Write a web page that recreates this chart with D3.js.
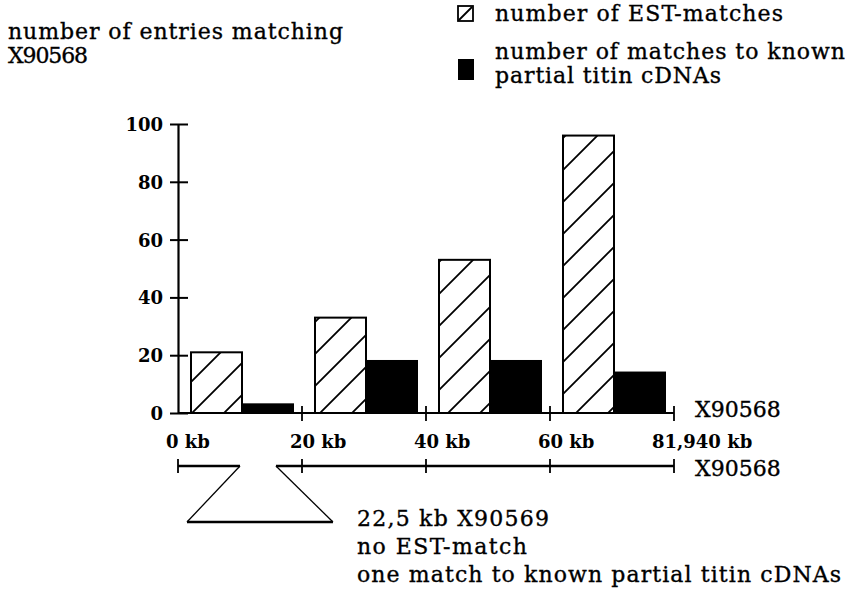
<!DOCTYPE html>
<html>
<head>
<meta charset="utf-8">
<script src="https://cdn.jsdelivr.net/npm/d3@7"></script>
<style>
  html, body { margin: 0; padding: 0; background: #fff; }
  svg { display: block; }
  text { font-family: "DejaVu Serif", "Liberation Serif", serif; fill: #000; }
  .heavy { stroke: #000; stroke-width: 0.35px; }
</style>
</head>
<body>
<svg id="chart" width="850" height="596"></svg>
<script>
// ---------------- data ----------------
const segments = ["0-20 kb", "20-40 kb", "40-60 kb", "60-81,940 kb"];
const estMatches = [21, 33, 53, 96];
const titinMatches = [3, 18, 18, 14];
const seriesKeys = ["est", "titin"];
const yTicks = [0, 20, 40, 60, 80, 100];
const kbTickLabels = ["0 kb", "20 kb", "40 kb", "60 kb", "81,940 kb"];
const kbTickValues = [0, 20, 40, 60, 81.94];
const insertGapKb = [10, 15.8];
const titleLines = ["number of entries matching", "X90568"];
const legendEst = ["number of EST-matches"];
const legendTitin = ["number of matches to known", "partial titin cDNAs"];
const axisName = "X90568";
const insertLines = ["22,5 kb X90569", "no EST-match", "one match to known partial titin cDNAs"];

// ---------------- layout ----------------
const svg = d3.select("#chart");
const plotLeft = 178, plotRight = 674, plotTop = 124, plotBase = 413;
const mapY = 466;
const textSize = "22px";

const y = d3.scaleLinear().domain([0, 100]).range([plotBase, plotTop]);
const xSeg = d3.scaleBand().domain(segments).range([plotLeft, plotRight]).padding(0);
const xInner = d3.scaleBand().domain(seriesKeys).range([13, 115]);
const xTick = d3.scalePoint().domain(kbTickLabels).range([plotLeft, plotRight]);
const xKb = d3.scaleLinear().domain(kbTickValues).range(kbTickLabels.map(l => xTick(l)));

// hatch pattern
const defs = svg.append("defs");
const pat = defs.append("pattern")
  .attr("id", "hatch").attr("patternUnits", "userSpaceOnUse")
  .attr("width", 32).attr("height", 32).attr("x", 0).attr("y", plotBase);
pat.append("path")
  .attr("d", "M-8,8 L8,-8 M0,32 L32,0 M24,40 L40,24")
  .attr("stroke", "#000").attr("stroke-width", 1.8);

// ---------------- bars ----------------
const rows = segments.map((s, i) => ({ seg: s, est: estMatches[i], titin: titinMatches[i] }));
const g = svg.append("g");
rows.forEach(r => {
  seriesKeys.forEach(k => {
    g.append("rect")
      .attr("x", xSeg(r.seg) + xInner(k))
      .attr("y", y(r[k]))
      .attr("width", xInner.bandwidth())
      .attr("height", plotBase - y(r[k]))
      .attr("fill", k === "est" ? "url(#hatch)" : "#000")
      .attr("stroke", "#000")
      .attr("stroke-width", 2);
  });
});

// ---------------- y axis ----------------
const yAxis = svg.append("g").attr("transform", `translate(${plotLeft},0)`)
  .call(d3.axisLeft(y).tickValues(yTicks).tickSizeInner(8).tickSizeOuter(0).tickPadding(7));
yAxis.select(".domain").attr("stroke-width", 2.2);
yAxis.selectAll(".tick line").attr("x1", 10).attr("x2", -8).attr("stroke-width", 2);
yAxis.selectAll(".tick text")
  .style("font-family", '"DejaVu Serif", serif')
  .style("font-size", "18px").style("font-weight", "bold").attr("dy", "0.36em");

// ---------------- x axis (baseline) ----------------
svg.append("line").attr("x1", plotLeft).attr("x2", plotRight).attr("y1", plotBase).attr("y2", plotBase)
  .attr("stroke", "#000").attr("stroke-width", 2.2);
svg.selectAll(".xt").data(kbTickLabels.slice(1)).join("line")
  .attr("x1", d => xTick(d)).attr("x2", d => xTick(d))
  .attr("y1", plotBase - 7).attr("y2", plotBase + 8)
  .attr("stroke", "#000").attr("stroke-width", 1.8);
svg.selectAll(".xl").data(kbTickLabels).join("text")
  .attr("x", (d, i) => xTick(d) + (i === kbTickLabels.length - 1 ? -22 : -12))
  .attr("y", 448)
  .style("font-size", "18px").style("font-weight", "bold")
  .text(d => d);
svg.append("text").attr("class", "heavy").attr("x", plotRight + 21).attr("y", 417)
  .style("font-size", "22px").text(axisName);

// ---------------- physical map ----------------
const mapSegs = [[kbTickValues[0], insertGapKb[0]], [insertGapKb[1], kbTickValues[kbTickValues.length - 1]]];
svg.selectAll(".mapseg").data(mapSegs).join("line")
  .attr("x1", d => xKb(d[0])).attr("x2", d => xKb(d[1]))
  .attr("y1", mapY).attr("y2", mapY)
  .attr("stroke", "#000").attr("stroke-width", 2.4);
svg.selectAll(".maptick").data(kbTickValues).join("line")
  .attr("x1", d => xKb(d)).attr("x2", d => xKb(d))
  .attr("y1", mapY - 7).attr("y2", mapY + 7)
  .attr("stroke", "#000").attr("stroke-width", 1.8);
svg.append("text").attr("class", "heavy").attr("x", plotRight + 21).attr("y", 476)
  .style("font-size", "22px").text(axisName);

// insertion trapezoid
const gx0 = xKb(insertGapKb[0]), gx1 = xKb(insertGapKb[1]);
const botY = 522;
svg.append("line").attr("x1", gx0).attr("y1", mapY).attr("x2", gx0 - 53).attr("y2", botY)
  .attr("stroke", "#000").attr("stroke-width", 1.3);
svg.append("line").attr("x1", gx1).attr("y1", mapY).attr("x2", gx1 + 57).attr("y2", botY)
  .attr("stroke", "#000").attr("stroke-width", 1.3);
svg.append("line").attr("x1", gx0 - 53).attr("y1", botY).attr("x2", gx1 + 57).attr("y2", botY)
  .attr("stroke", "#000").attr("stroke-width", 2.4);

svg.selectAll(".ins").data(insertLines).join("text")
  .attr("class", "heavy")
  .attr("x", 357).attr("y", (d, i) => 526 + i * 28)
  .style("font-size", textSize)
  .attr("textLength", (d, i) => [192, 170, 484][i]).attr("lengthAdjust", "spacing")
  .text(d => d);

// ---------------- title ----------------
svg.selectAll(".title").data(titleLines).join("text")
  .attr("class", "heavy")
  .attr("x", 8).attr("y", (d, i) => 39 + i * 24)
  .style("font-size", textSize)
  .attr("textLength", (d, i) => [335, 80][i]).attr("lengthAdjust", "spacing")
  .text(d => d);

// ---------------- legend ----------------
const lx = 458, ltx = 495;
svg.append("rect").attr("x", lx).attr("y", 6).attr("width", 15).attr("height", 15)
  .attr("fill", "#fff").attr("stroke", "#000").attr("stroke-width", 1.8);
svg.append("line").attr("x1", lx + 1).attr("y1", 20).attr("x2", lx + 14).attr("y2", 7)
  .attr("stroke", "#000").attr("stroke-width", 1.8);
svg.append("rect").attr("x", lx).attr("y", 59).attr("width", 16).attr("height", 21)
  .attr("fill", "#000");
svg.selectAll(".leg1").data(legendEst).join("text")
  .attr("class", "heavy")
  .attr("x", ltx).attr("y", 21)
  .style("font-size", textSize)
  .attr("textLength", 288).attr("lengthAdjust", "spacing")
  .text(d => d);
svg.selectAll(".leg2").data(legendTitin).join("text")
  .attr("class", "heavy")
  .attr("x", ltx).attr("y", (d, i) => 59 + i * 24)
  .style("font-size", textSize)
  .attr("textLength", (d, i) => [350, 226][i]).attr("lengthAdjust", "spacing")
  .text(d => d);
</script>
</body>
</html>
